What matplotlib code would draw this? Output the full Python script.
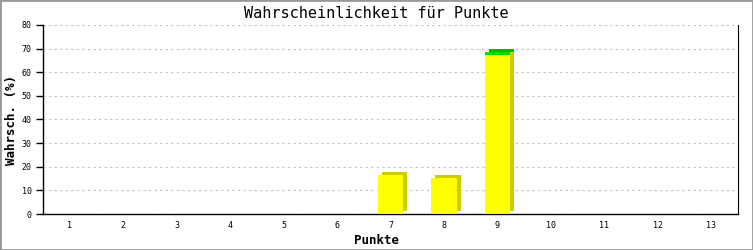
import matplotlib
matplotlib.use("Agg")
import matplotlib.pyplot as plt
import matplotlib.transforms as mtransforms
from matplotlib.patches import Rectangle

categories = list(range(1, 14))
values = [0, 0, 0, 0, 0, 0, 16.6, 15.4, 67.2, 0, 0, 0, 0]
extra = [0, 0, 0, 0, 0, 0, 0, 0, 1.2, 0, 0, 0, 0]
yticks = [0, 10, 20, 30, 40, 50, 60, 70, 80]

W, H = 753, 250
fig = plt.figure(figsize=(W / 100, H / 100), dpi=100)
fig.patch.set_facecolor("white")
fig.patches.append(Rectangle((0, 0), 1, 1, transform=fig.transFigure,
                             fill=False, edgecolor="#999999", linewidth=2))

ax = fig.add_axes([43 / W, 1 - 214 / H, (738 - 43) / W, (214 - 25) / H])
ax.set_xlim(0.5, 13.5)
ax.set_ylim(0, 80)

font = "DejaVu Sans Mono"
bw = 0.47
off = mtransforms.offset_copy(ax.transData, fig=fig, x=4, y=3, units="dots")

for x, v, e in zip(categories, values, extra):
    if v <= 0:
        continue
    ax.bar(x, v, width=bw, color="#cccc00", transform=off, zorder=2, linewidth=0)
    ax.bar(x, v, width=bw, color="#ffff00", zorder=3, linewidth=0)
    if e > 0:
        ax.bar(x, e, bottom=v, width=bw, color="#00bb00", transform=off, zorder=2, linewidth=0)
        ax.bar(x, e, bottom=v, width=bw, color="#00dd00", zorder=3, linewidth=0)

ax.set_yticks(yticks)
ax.set_yticklabels([str(t) for t in yticks], fontsize=6, family=font)
ax.set_xticks(categories)
ax.set_xticklabels([str(c) for c in categories], fontsize=6, family=font)
ax.tick_params(axis="y", direction="out", length=5, width=1, pad=3)
ax.tick_params(axis="x", length=0, pad=5)
ax.grid(axis="y", color="#c0c0c0", linestyle=(0, (2, 3)), linewidth=0.8, zorder=0)
ax.set_axisbelow(True)
ax.spines["top"].set_visible(False)
ax.spines["right"].set_linewidth(0.8)
ax.spines["left"].set_linewidth(1)
ax.spines["bottom"].set_linewidth(1)

fig.text(0.5, 1 - 13 / H, "Wahrscheinlichkeit für Punkte", ha="center", va="center",
         fontsize=11, family=font)
fig.text(0.5, 1 - 240 / H, "Punkte", ha="center", va="center", fontsize=9,
         family=font, fontweight="bold")
fig.text(12 / W, 1 - 120 / H, "Wahrsch. (%)", ha="center", va="center", rotation=90,
         fontsize=9, family=font, fontweight="bold")

fig.savefig("out.png", dpi=100)
